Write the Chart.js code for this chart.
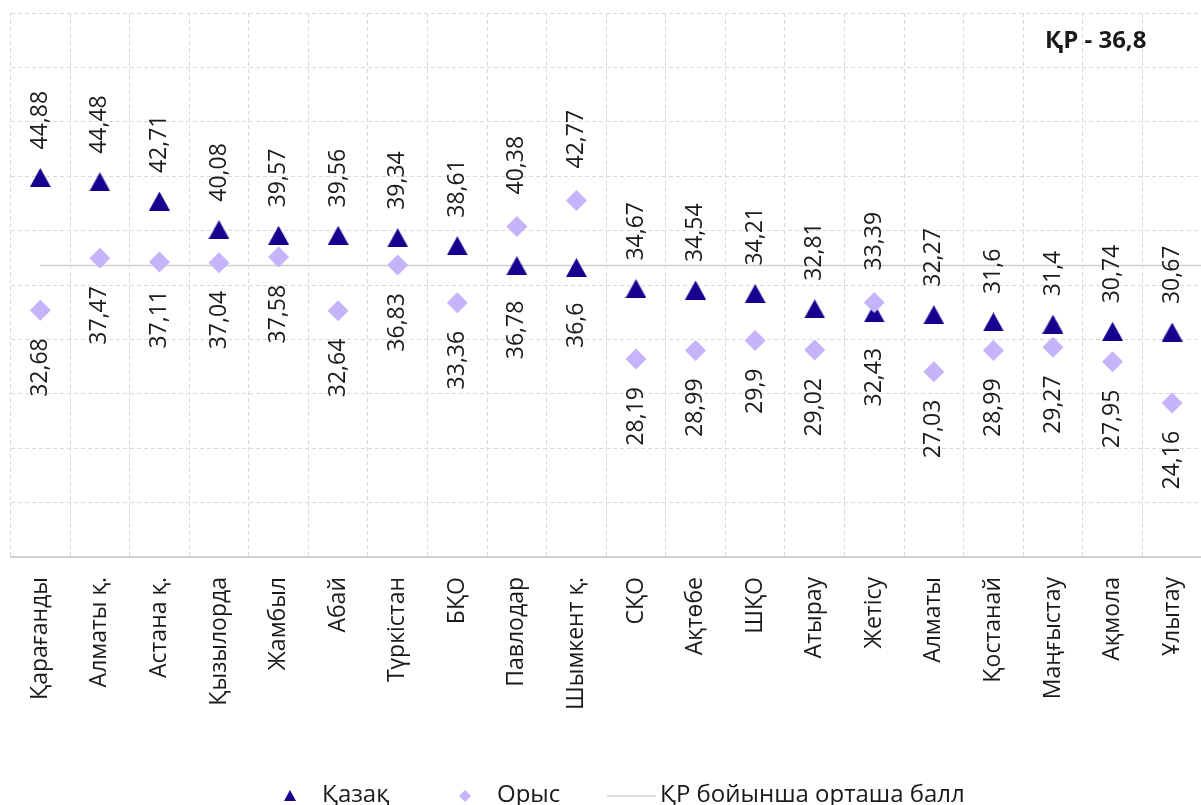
<!DOCTYPE html>
<html>
<head>
<meta charset="utf-8">
<script src="https://cdn.jsdelivr.net/npm/chart.js@4.4.1/dist/chart.umd.min.js"></script>
<style>
    html, body { margin: 0; padding: 0; overflow: hidden; background: #fff; }
    #wrap { width: 1220px; height: 805px; }
</style>
</head>
<body>
<div id="wrap"><canvas id="chart" width="1220" height="805"></canvas></div>
<script>
// Data
const regions = ["Қарағанды", "Алматы қ.", "Астана қ.", "Қызылорда", "Жамбыл", "Абай", "Түркістан", "БҚО",
    "Павлодар", "Шымкент қ.", "СҚО", "Ақтөбе", "ШҚО", "Атырау", "Жетісу", "Алматы", "Қостанай",
    "Маңғыстау", "Ақмола", "Ұлытау"];
const kazakh = [44.88, 44.48, 42.71, 40.08, 39.57, 39.56, 39.34, 38.61, 36.78, 36.6,
    34.67, 34.54, 34.21, 32.81, 32.43, 32.27, 31.6, 31.4, 30.74, 30.67];
const russian = [32.68, 37.47, 37.11, 37.04, 37.58, 32.64, 36.83, 33.36, 40.38, 42.77,
    28.19, 28.99, 29.9, 29.02, 33.39, 27.03, 28.99, 29.27, 27.95, 24.16];
const countryAverage = 36.8;
const averageSpan = [0, 19.5]; // from first region to the right edge of the plot
const yRange = [10, 60];
const yStep = 5;

const seriesNames = ["Қазақ", "Орыс", "ҚР бойынша орташа балл"];
const averageNote = "ҚР - 36,8";

const KZ_COLOR = "#15008F";
const RU_COLOR = "#C5B4FA";
const AVG_COLOR = "#D0D0D0";
const GRID_COLOR = "#D9D9D9";
const TEXT_COLOR = "#1A1A1A";
const FONT = '"Open Sans", "Noto Sans", sans-serif';

// triangle marker, centred on its bounding box like the original
function makeTriangle(w, h, color) {
    const c = document.createElement("canvas");
    c.width = w; c.height = h;
    const g = c.getContext("2d");
    g.fillStyle = color;
    g.beginPath();
    g.moveTo(w / 2, 0);
    g.lineTo(w, h);
    g.lineTo(0, h);
    g.closePath();
    g.fill();
    return c;
}
const triangle = makeTriangle(21, 19, KZ_COLOR);

const fmt = v => String(v).replace(".", ",");

// value labels, higher value above its marker, lower one below
const valueLabels = {
    id: "valueLabels",
    afterDatasetsDraw(chart) {
        const ctx = chart.ctx;
        const kzMeta = chart.getDatasetMeta(0);
        const ruMeta = chart.getDatasetMeta(1);

        function draw(pt, v, up, gap) {
            ctx.save();
            ctx.translate(pt.x, pt.y);
            ctx.rotate(-Math.PI / 2);
            ctx.textAlign = up ? "left" : "right";
            ctx.fillText(fmt(v), up ? gap : -gap, 0);
            ctx.restore();
        }

        ctx.save();
        ctx.font = "23px " + FONT;
        ctx.fillStyle = TEXT_COLOR;
        ctx.textBaseline = "middle";
        regions.forEach((r, i) => {
            const kzUp = kazakh[i] >= russian[i];
            draw(kzMeta.data[i], kazakh[i], kzUp, kzUp ? 28 : 35);
            draw(ruMeta.data[i], russian[i], !kzUp, kzUp ? 28 : 32);
        });
        ctx.restore();
    }
};

// note in the top right corner and the legend at the bottom
const extras = {
    id: "extras",
    afterDraw(chart) {
        const ctx = chart.ctx;
        ctx.save();
        ctx.fillStyle = TEXT_COLOR;
        ctx.textBaseline = "alphabetic";
        ctx.textAlign = "left";
        ctx.font = "bold 24px " + FONT;
        ctx.fillText(averageNote, 1045, 48);

        const y = 796;
        ctx.font = "24px " + FONT;
        // Қазақ
        ctx.fillStyle = KZ_COLOR;
        ctx.beginPath();
        ctx.moveTo(290, y - 6);
        ctx.lineTo(296, y + 5);
        ctx.lineTo(284, y + 5);
        ctx.closePath();
        ctx.fill();
        ctx.fillStyle = TEXT_COLOR;
        ctx.fillText(seriesNames[0], 322, 802);
        // Орыс
        ctx.fillStyle = RU_COLOR;
        ctx.beginPath();
        ctx.moveTo(465, y - 6);
        ctx.lineTo(471, y);
        ctx.lineTo(465, y + 6);
        ctx.lineTo(459, y);
        ctx.closePath();
        ctx.fill();
        ctx.fillStyle = TEXT_COLOR;
        ctx.fillText(seriesNames[1], 497, 802);
        // average line
        ctx.strokeStyle = AVG_COLOR;
        ctx.lineWidth = 1.5;
        ctx.beginPath();
        ctx.moveTo(607, y);
        ctx.lineTo(656, y);
        ctx.stroke();
        ctx.fillText(seriesNames[2], 660, 802);
        ctx.restore();
    }
};

new Chart(document.getElementById("chart"), {
    type: "line",
    data: {
        labels: regions,
        datasets: [
            {
                label: seriesNames[0],
                data: kazakh,
                showLine: false,
                pointStyle: triangle,
                pointBackgroundColor: KZ_COLOR,
                pointBorderWidth: 0,
                order: 2
            },
            {
                label: seriesNames[1],
                data: russian,
                showLine: false,
                pointStyle: "rectRot",
                pointRadius: 10.5,
                pointBackgroundColor: RU_COLOR,
                pointBorderColor: RU_COLOR,
                pointBorderWidth: 0,
                order: 1
            },
            {
                label: seriesNames[2],
                data: averageSpan.map(x => ({ x: x, y: countryAverage })),
                xAxisID: "xLine",
                borderColor: AVG_COLOR,
                borderWidth: 1.5,
                pointRadius: 0,
                order: 3
            }
        ]
    },
    options: {
        responsive: false,
        animation: false,
        layout: { padding: { left: 10.5, top: 13, right: 5, bottom: 0 } },
        plugins: {
            legend: { display: false },
            tooltip: { enabled: false }
        },
        scales: {
            x: {
                type: "category",
                offset: true,
                grid: { offset: true, color: GRID_COLOR, drawTicks: false },
                border: { display: true, color: "#D0D0D0", width: 2, dash: [4, 3] },
                ticks: {
                    autoSkip: false,
                    minRotation: 90,
                    maxRotation: 90,
                    padding: 20,
                    color: TEXT_COLOR,
                    font: { family: FONT, size: 23 }
                },
                afterFit(scale) { scale.height = 248; }
            },
            xLine: {
                type: "linear",
                display: false,
                min: -0.5,
                max: 19.5
            },
            y: {
                min: yRange[0],
                max: yRange[1],
                ticks: { stepSize: yStep, display: false },
                grid: { color: GRID_COLOR, drawTicks: false },
                border: { display: false, dash: [4, 3] },
                afterFit(scale) { scale.width = 0; }
            }
        }
    },
    plugins: [valueLabels, extras]
});
</script>
</body>
</html>
